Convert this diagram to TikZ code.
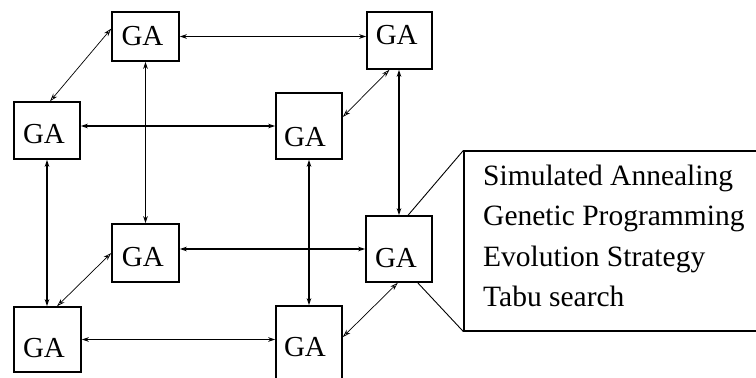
\documentclass[tikz,border=0pt]{standalone}
\usepackage{fontspec}
\setmainfont{Liberation Serif}
\usetikzlibrary{arrows.meta}
\begin{document}
\begin{tikzpicture}[x=1pt,y=-1pt,
  gabox/.style={draw,line width=1.5pt,inner sep=0pt,minimum width=66pt},
  gatext/.style={font=\fontsize{29}{29}\selectfont,inner sep=0pt},
  link/.style={line width=1.2pt,{Stealth[length=7pt,width=4.5pt]}-{Stealth[length=7pt,width=4.5pt]}},
  diag/.style={line width=0.7pt,{Stealth[length=8pt,width=5pt,open]}-{Stealth[length=8pt,width=5pt,open]}},
  callout/.style={draw,line width=1.2pt,inner sep=0pt},
  calloutline/.style={line width=0.9pt},
  itemtext/.style={font=\fontsize{29.5}{29.5}\selectfont,inner sep=0pt,anchor=base west}]
\useasboundingbox (0,0) rectangle (756,378);
\clip (0,0) rectangle (756,378);

% back face of the cube
\node[gabox,minimum width=67pt,minimum height=49pt] (btl) at (145.5,36.5) {};
\node[gabox,minimum width=65pt,minimum height=57pt] (btr) at (399.5,40.5) {};
\node[gabox,minimum width=67pt,minimum height=58pt] (bbl) at (145.5,253) {};
\node[gabox,minimum height=66pt] (bbr) at (399,249) {};
% front face of the cube
\node[gabox,minimum height=57pt] (ftl) at (47,130.5) {};
\node[gabox,minimum height=66pt] (ftr) at (309,126) {};
\node[gabox,minimum width=67pt,minimum height=65pt] (fbl) at (47.5,339.5) {};
\node[gabox,minimum height=74pt] (fbr) at (309,343) {};

% labels
\node[gatext] (btl-t) at (142.5,36.5) {GA};
\node[gatext] (btr-t) at (396.7,35.5) {GA};
\node[gatext] (bbl-t) at (142.8,257.5) {GA};
\node[gatext] (bbr-t) at (396,258.5) {GA};
\node[gatext] (ftl-t) at (44,134) {GA};
\node[gatext] (ftr-t) at (305,137.5) {GA};
\node[gatext] (fbl-t) at (44,348) {GA};
\node[gatext] (fbr-t) at (305,347.5) {GA};

% horizontal edges
\draw[link] (btl.east) -- (btl.east -| btr.west);
\draw[link] (ftr.west -| ftl.east) -- (ftr.west);
\draw[link] (bbr.west -| bbl.east) -- (bbr.west);
\draw[link] (fbl.east) -- (fbl.east -| fbr.west);
% vertical edges
\draw[link] (btl.south) -- (btl.south |- bbl.north);
\draw[link] (btr.south -| bbr.north) -- (bbr.north);
\draw[link] (ftl.south) -- (ftl.south |- fbl.north);
\draw[link] (ftr.south) -- (ftr.south |- fbr.north);
% depth edges
\draw[diag] (ftl.84) -- (btl.167);
\draw[diag] (ftr.15) -- (btr.251);
\draw[diag] (fbl.74) -- (bbl.west);
\draw[diag] (fbr.10) -- (bbr.268);

% detail callout
\node[callout,minimum width=336pt,minimum height=180pt] (notes) at (632,241) {};
\draw[calloutline] (bbr.75) -- (notes.north west);
\draw[calloutline] (bbr.299) -- (notes.south west);
\node[itemtext] (sa) at (483,185) {Simulated Annealing};
\node[itemtext] (gp) at (483,225.5) {Genetic Programming};
\node[itemtext] (es) at (483,266) {Evolution Strategy};
\node[itemtext] (ts) at (483,306.5) {Tabu search};
\end{tikzpicture}
\end{document}
